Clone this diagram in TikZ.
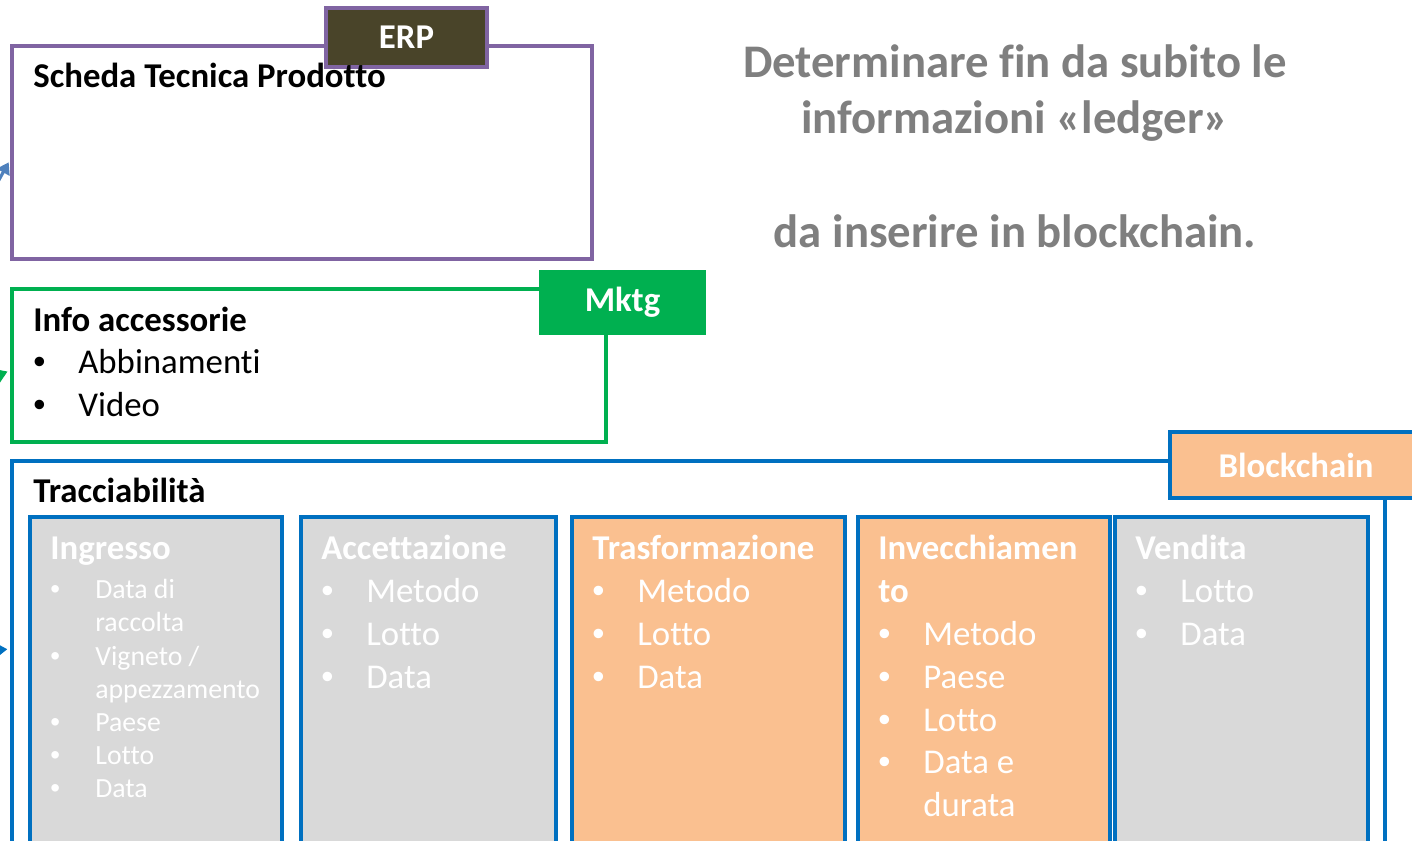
\documentclass[tikz,border=0pt]{standalone}
\usepackage{fontspec}
\setmainfont{Carlito}[Ligatures=NoCommon]
\newfontfamily\bulletfont{Liberation Sans}
\usepackage{tikz}
\usetikzlibrary{
	arrows.meta,									% arrow tips
	fit,											% boxes around given points
}

\definecolor{viola}{HTML}{8064A2}
\definecolor{erpfill}{HTML}{494429}
\definecolor{verde}{HTML}{00B050}
\definecolor{blu}{HTML}{0070C0}
\definecolor{pesca}{HTML}{FAC090}
\definecolor{grigio}{HTML}{D9D9D9}
\definecolor{grigiotitolo}{HTML}{7F7F7F}
\definecolor{freccia}{HTML}{4F81BD}

\newcommand\bigfont{\fontsize{19.8pt}{24.4pt}\selectfont}
\newcommand\smallfont{\fontsize{15.8pt}{18.9pt}\selectfont}
\newcommand\titlefont{\fontsize{26.6pt}{32.3pt}\selectfont}
\newcommand\blt{\makebox[0.9cm][l]{\bulletfont •}}
\newcommand\ind{\hspace*{0.9cm}}

\tikzset{
	box/.style={draw, line width=2.3pt, inner sep=0pt},
	tagtext/.style={text=white, font=\bfseries\bigfont, inner sep=0pt},
	tagbox/.style={box, label={[tagtext]center:#1}},
	stage/.style={box, draw=blu},
	lbl/.style={anchor=base west, inner sep=0pt, font=\bfseries\bigfont},
	head/.style={anchor=north west, inner sep=0pt, align=left, text=white, font=\bfseries\bigfont},
	lista/.style={anchor=north west, inner sep=0pt, align=left, text=white, font=\bigfont},
	feed/.style={line width=1.8pt, shorten >=1.5pt, -{Triangle[length=6.5pt,width=8pt]}},
}

\begin{document}
\begin{tikzpicture}[x=0.02cm, y=-0.02cm]
	\useasboundingbox (0,0) rectangle (1412,841);
	\clip (0,0) rectangle (1412,841);

	% main boxes
	\node[box, draw=viola, fit={(12,46) (592,259)}] (scheda) {};
	\node[box, draw=verde, fit={(12,289) (606,442)}] (info) {};
	\node[box, draw=blu, fit={(12,461) (1385,900)}] (traccia) {};

	% tags
	\node[tagbox=ERP, fill=erpfill, draw=viola, fit={(326,8) (487,67)}] (erp) {};
	\node[tagbox=Mktg, fill=verde, draw=verde, fit={(541,272) (704,333)}] (mktg) {};
	\node[tagbox=Blockchain, fill=pesca, draw=blu, fit={(1170,432) (1422,498)}] (blockchain) {};

	\node[lbl] (schedalbl) at (33,88) {Scheda Tecnica Prodotto};
	\node[lbl] (infolbl) at (33,331) {Info accessorie};
	\node[lista, text=black] (infolist) at (33,343) {\strut\blt Abbinamenti\\ \blt Video};
	\node[lbl] (traccialbl) at (33,502) {Tracciabilità};

	% stages
	\node[stage, fill=grigio, fit={(30,517) (282,900)}] (ingresso) {};
	\node[stage, fill=grigio, fit={(301,517) (556,900)}] (accettazione) {};
	\node[stage, fill=pesca, fit={(572,517) (845,900)}] (trasformazione) {};
	\node[stage, fill=pesca, fit={(858,517) (1110,900)}] (invecchiamento) {};
	\node[stage, fill=grigio, fit={(1115,517) (1368,900)}] (vendita) {};

	\node[head] (ingressohd) at (50,529) {\strut Ingresso};
	\node[lista, font=\smallfont] (ingressolist) at (50,575) {\strut\blt Data di\\ \ind raccolta\\ \blt Vigneto /\\ \ind appezzamento\\ \blt Paese\\ \blt Lotto\\ \blt Data};
	\node[head] (accettazionehd) at (321,529) {\strut Accettazione};
	\node[lista] (accettazionelist) at (321,572) {\strut\blt Metodo\\ \blt Lotto\\ \blt Data};
	\node[head] (trasformazionehd) at (592,529) {\strut Trasformazione};
	\node[lista] (trasformazionelist) at (592,572) {\strut\blt Metodo\\ \blt Lotto\\ \blt Data};
	\node[head] (invecchiamentohd) at (878,529) {\strut Invecchiamen\\to};
	\node[lista] (invecchiamentolist) at (878,615) {\strut\blt Metodo\\ \blt Paese\\ \blt Lotto\\ \blt Data e\\ \ind durata};
	\node[head] (venditahd) at (1135,529) {\strut Vendita};
	\node[lista] (venditalist) at (1135,572) {\strut\blt Lotto\\ \blt Data};

	% message
	\node[anchor=north, inner sep=0pt, align=center, text=grigiotitolo, font=\bfseries\titlefont] (msg) at (1015,37)
		{\strut Determinare fin da subito le\\ informazioni «ledger»\\[32.3pt] da inserire in blockchain.};

	% incoming connectors
	\coordinate (inscheda) at (-15,205);
	\coordinate (ininfo) at (-25,385);
	\coordinate (intraccia) at (-25,652);
	\draw[feed, freccia] (inscheda) -- ([yshift=-0.15cm]scheda.west);
	\draw[feed, verde] (ininfo) -- ([yshift=-0.1cm]info.west);
	\draw[feed, blu] (intraccia) -- (traccia.west |- 0,649);
\end{tikzpicture}
\end{document}
